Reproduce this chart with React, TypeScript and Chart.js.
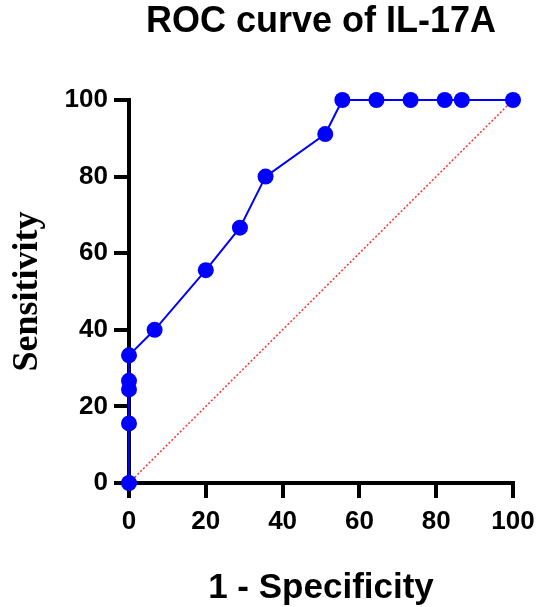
import React, { useEffect, useRef } from "react";
import { Chart, registerables } from "chart.js";

Chart.register(...registerables);

const chartTitle = "ROC curve of IL-17A";
const xTitle = "1 - Specificity";
const yTitle = "Sensitivity";

// 1 - Specificity (%)
const rocX = [0, 0, 0, 0, 0, 6.67, 20.0, 28.89, 35.56, 51.11, 55.56, 64.44, 73.33, 82.22, 86.67, 100];
// Sensitivity (%)
const rocY = [0, 15.56, 24.44, 26.67, 33.33, 40.0, 55.56, 66.67, 80.0, 91.11, 100, 100, 100, 100, 100, 100];

const refX = [0, 100];
const refY = [0, 100];

const xTicks = [0, 20, 40, 60, 80, 100];
const yTicks = [0, 20, 40, 60, 80, 100];

const SANS = "'Liberation Sans', Arial, Helvetica, sans-serif";
const SERIF = "'Liberation Serif', 'Times New Roman', serif";

export default function App() {
  const ref = useRef<HTMLCanvasElement | null>(null);

  useEffect(() => {
    if (!ref.current) return;
    const chart = new Chart(ref.current, {
      type: "scatter",
      data: {
        datasets: [
          {
            label: "ROC",
            data: rocX.map((x, i) => ({ x, y: rocY[i] })),
            showLine: true,
            borderColor: "#0000ff",
            backgroundColor: "#0000ff",
            borderWidth: 2,
            pointRadius: 8,
            pointBorderWidth: 0,
            pointBackgroundColor: "#0000ff",
            clip: false,
          },
          {
            label: "Reference",
            data: refX.map((x, i) => ({ x, y: refY[i] })),
            showLine: true,
            borderColor: "#ff3030",
            borderWidth: 1.5,
            borderDash: [2, 2],
            pointRadius: 0,
            clip: false,
          },
        ],
      },
      options: {
        responsive: false,
        animation: false,
        devicePixelRatio: 1,
        layout: { padding: { left: 0, right: 23, top: 0, bottom: 0 } },
        plugins: {
          legend: { display: false },
          tooltip: { enabled: false },
          title: {
            display: true,
            text: chartTitle,
            fullSize: false,
            color: "#000",
            font: { family: SANS, size: 36, weight: "bold" },
            padding: { top: 0, bottom: 56.8 },
          },
        },
        scales: {
          x: {
            type: "linear",
            min: 0,
            max: 100,
            afterBuildTicks: (s: any) => {
              s.ticks = xTicks.map((v) => ({ value: v }));
            },
            afterFit: (s: any) => {
              s.height = 124;
              s.paddingLeft = 0;
              s.paddingRight = 0;
            },
            ticks: {
              color: "#000",
              font: { family: SANS, size: 26, weight: "bold" },
              padding: 8,
              maxRotation: 0,
            },
            grid: {
              drawOnChartArea: false,
              drawTicks: true,
              tickLength: 15,
              color: "#000",
              lineWidth: 4,
            },
            border: { display: true, color: "#000", width: 4 },
            title: {
              display: true,
              text: xTitle,
              color: "#000",
              font: { family: SANS, size: 35, weight: "bold" },
              padding: { top: 0, bottom: -2 },
            },
          },
          y: {
            type: "linear",
            min: 0,
            max: 100,
            afterBuildTicks: (s: any) => {
              s.ticks = yTicks.map((v) => ({ value: v }));
            },
            afterFit: (s: any) => {
              s.width = 129;
              s.paddingTop = 0;
              s.paddingBottom = 0;
            },
            ticks: {
              color: "#000",
              font: { family: SANS, size: 26, weight: "bold" },
              padding: 6,
            },
            grid: {
              drawOnChartArea: false,
              drawTicks: true,
              tickLength: 15,
              color: "#000",
              lineWidth: 4,
            },
            border: { display: true, color: "#000", width: 4 },
            title: {
              display: true,
              text: yTitle,
              color: "#000",
              font: { family: SERIF, size: 36, weight: "bold" },
              padding: { top: 6, bottom: 0 },
            },
          },
        },
      },
    });
    return () => chart.destroy();
  }, []);

  return (
    <div style={{ position: "absolute", left: 0, top: 0, width: 536, height: 607 }}>
      <canvas ref={ref} width={536} height={607} />
    </div>
  );
}
